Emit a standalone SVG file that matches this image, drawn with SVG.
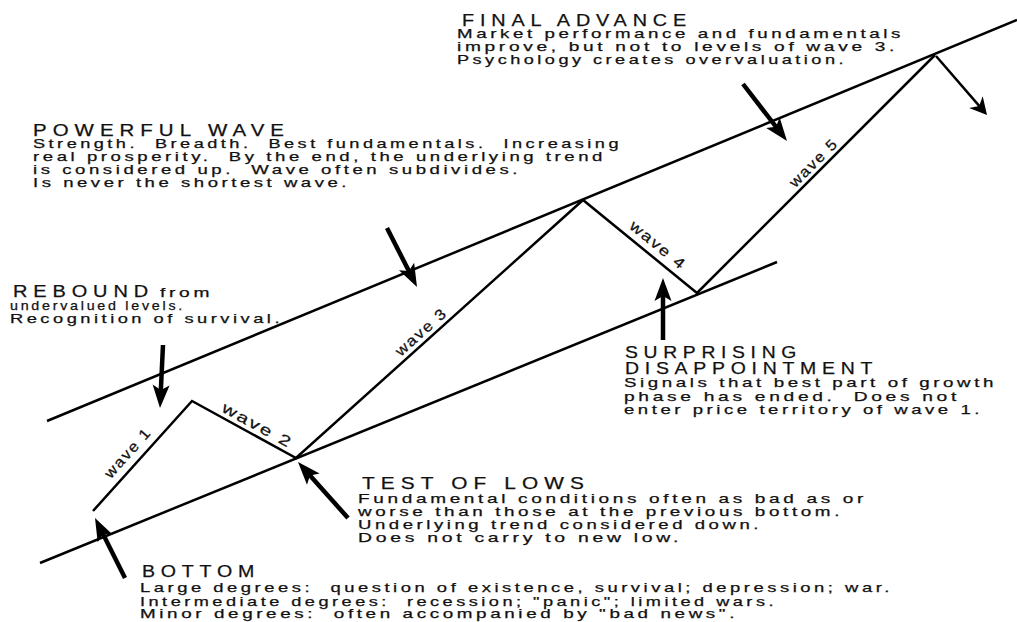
<svg xmlns="http://www.w3.org/2000/svg" width="1017" height="622" viewBox="0 0 1017 622">
<style>
text{font-family:"Liberation Sans",Arial,Helvetica,sans-serif;fill:#111;stroke:#111;stroke-width:0.25;white-space:pre}
.t{font-size:17px;letter-spacing:5px}
.b{font-size:13px;letter-spacing:2.5px}
.w{font-size:15px;letter-spacing:1.5px}
.ln{fill:none;stroke:#000;stroke-width:2.5;stroke-linejoin:miter}
.ar{fill:none;stroke:#000;stroke-width:4.5}
.ar2{fill:none;stroke:#000;stroke-width:2.5}
</style>
<defs>
<marker id="ah" markerUnits="userSpaceOnUse" orient="auto" markerWidth="40" markerHeight="40" viewBox="-30 -20 40 40" refX="0" refY="0" overflow="visible">
<path d="M12,0 L-11,-8.5 L-6,0 L-11,8.5 Z" fill="#000"/>
</marker>
<marker id="ah2" markerUnits="userSpaceOnUse" orient="auto" markerWidth="40" markerHeight="40" viewBox="-30 -20 40 40" refX="0" refY="0" overflow="visible">
<path d="M8,0 L-9,-9 L-4,0 L-9,9 Z" fill="#000"/>
</marker>
</defs>
<rect width="1017" height="622" fill="#fff"/>

<g id="connectors">
<line class="ln" x1="47" y1="421" x2="1017" y2="20"/>
<line class="ln" x1="40" y1="563" x2="777" y2="262"/>
<polyline class="ln" points="93,511 192,401 296,458 583,200 697,293 935,55"/>
<line class="ar" x1="125" y1="578" x2="100.37" y2="528.73" marker-end="url(#ah)"/>
<line class="ar" x1="348" y1="518" x2="305.99" y2="470.95" marker-end="url(#ah)"/>
<line class="ar" x1="163" y1="345" x2="160.57" y2="396.01" marker-end="url(#ah)"/>
<line class="ar" x1="387" y1="228" x2="411.56" y2="276.31" marker-end="url(#ah)"/>
<line class="ar" x1="663" y1="340" x2="663" y2="290" marker-end="url(#ah)"/>
<line class="ar" x1="743" y1="84" x2="779.67" y2="131.5" marker-end="url(#ah)"/>
<line class="ar2" x1="936" y1="56" x2="981.78" y2="108.94" marker-end="url(#ah2)"/>
</g>

<g id="wave-labels">
<text class="w" text-anchor="middle" textLength="62" lengthAdjust="spacingAndGlyphs" transform="translate(127.5,452.5) rotate(-48)" y="5.4">wave 1</text>
<text class="w" text-anchor="middle" textLength="78" lengthAdjust="spacingAndGlyphs" transform="translate(257.5,425) rotate(28.7)" y="5.4">wave 2</text>
<text class="w" text-anchor="middle" textLength="64" lengthAdjust="spacingAndGlyphs" transform="translate(420.8,331.7) rotate(-42)" y="5.4">wave 3</text>
<text class="w" text-anchor="middle" textLength="68" lengthAdjust="spacingAndGlyphs" transform="translate(658.3,245) rotate(39.2)" y="5.4">wave 4</text>
<text class="w" text-anchor="middle" textLength="62" lengthAdjust="spacingAndGlyphs" transform="translate(813.3,162.5) rotate(-45)" y="5.4">wave 5</text>
</g>

<g id="final-advance">
<text class="t" x="462" y="26" textLength="230" lengthAdjust="spacingAndGlyphs">FINAL ADVANCE</text>
<text class="b" xml:space="preserve" x="457" y="37.5" textLength="447" lengthAdjust="spacingAndGlyphs">Market performance and fundamentals</text>
<text class="b" xml:space="preserve" x="457" y="50.5" textLength="441" lengthAdjust="spacingAndGlyphs">improve, but not to levels of wave 3.</text>
<text class="b" xml:space="preserve" x="457" y="63.5" textLength="390" lengthAdjust="spacingAndGlyphs">Psychology creates overvaluation.</text>
</g>

<g id="powerful-wave">
<text class="t" x="33" y="136" textLength="257" lengthAdjust="spacingAndGlyphs">POWERFUL WAVE</text>
<text class="b" xml:space="preserve" x="33" y="147.5" textLength="589" lengthAdjust="spacingAndGlyphs">Strength.  Breadth.  Best fundamentals.  Increasing</text>
<text class="b" xml:space="preserve" x="33" y="160.5" textLength="573" lengthAdjust="spacingAndGlyphs">real prosperity.  By the end, the underlying trend</text>
<text class="b" xml:space="preserve" x="33" y="173.5" textLength="488" lengthAdjust="spacingAndGlyphs">is considered up.  Wave often subdivides.</text>
<text class="b" xml:space="preserve" x="33" y="186.5" textLength="317" lengthAdjust="spacingAndGlyphs">Is never the shortest wave.</text>
</g>

<g id="rebound">
<text class="t" x="13" y="296.5" textLength="141" lengthAdjust="spacingAndGlyphs">REBOUND</text>
<text class="b" x="160" y="296.5" textLength="53" lengthAdjust="spacingAndGlyphs">from</text>
<text class="b" xml:space="preserve" x="10" y="309.5" textLength="175" lengthAdjust="spacingAndGlyphs">undervalued levels.</text>
<text class="b" xml:space="preserve" x="10" y="322.7" textLength="273" lengthAdjust="spacingAndGlyphs">Recognition of survival.</text>
</g>

<g id="surprising-disappointment">
<text class="t" x="625" y="358.3" textLength="177" lengthAdjust="spacingAndGlyphs">SURPRISING</text>
<text class="t" x="625" y="373.5" textLength="253" lengthAdjust="spacingAndGlyphs">DISAPPOINTMENT</text>
<text class="b" xml:space="preserve" x="624" y="387.3" textLength="373" lengthAdjust="spacingAndGlyphs">Signals that best part of growth</text>
<text class="b" xml:space="preserve" x="624" y="400.7" textLength="336" lengthAdjust="spacingAndGlyphs">phase has ended.  Does not</text>
<text class="b" xml:space="preserve" x="624" y="414" textLength="359" lengthAdjust="spacingAndGlyphs">enter price territory of wave 1.</text>
</g>

<g id="test-of-lows">
<text class="t" x="362" y="489" textLength="228" lengthAdjust="spacingAndGlyphs">TEST OF LOWS</text>
<text class="b" xml:space="preserve" x="358" y="502.7" textLength="509" lengthAdjust="spacingAndGlyphs">Fundamental conditions often as bad as or</text>
<text class="b" xml:space="preserve" x="358" y="516" textLength="485" lengthAdjust="spacingAndGlyphs">worse than those at the previous bottom.</text>
<text class="b" xml:space="preserve" x="358" y="529" textLength="404" lengthAdjust="spacingAndGlyphs">Underlying trend considered down.</text>
<text class="b" xml:space="preserve" x="358" y="541.7" textLength="324" lengthAdjust="spacingAndGlyphs">Does not carry to new low.</text>
</g>

<g id="bottom">
<text class="t" x="142" y="577.3" textLength="118" lengthAdjust="spacingAndGlyphs">BOTTOM</text>
<text class="b" xml:space="preserve" x="140" y="592.3" textLength="753" lengthAdjust="spacingAndGlyphs">Large degrees:  question of existence, survival; depression; war.</text>
<text class="b" xml:space="preserve" x="140" y="605.5" textLength="637" lengthAdjust="spacingAndGlyphs">Intermediate degrees:  recession; "panic"; limited wars.</text>
<text class="b" xml:space="preserve" x="140" y="618.3" textLength="598" lengthAdjust="spacingAndGlyphs">Minor degrees:  often accompanied by "bad news".</text>
</g>
</svg>
